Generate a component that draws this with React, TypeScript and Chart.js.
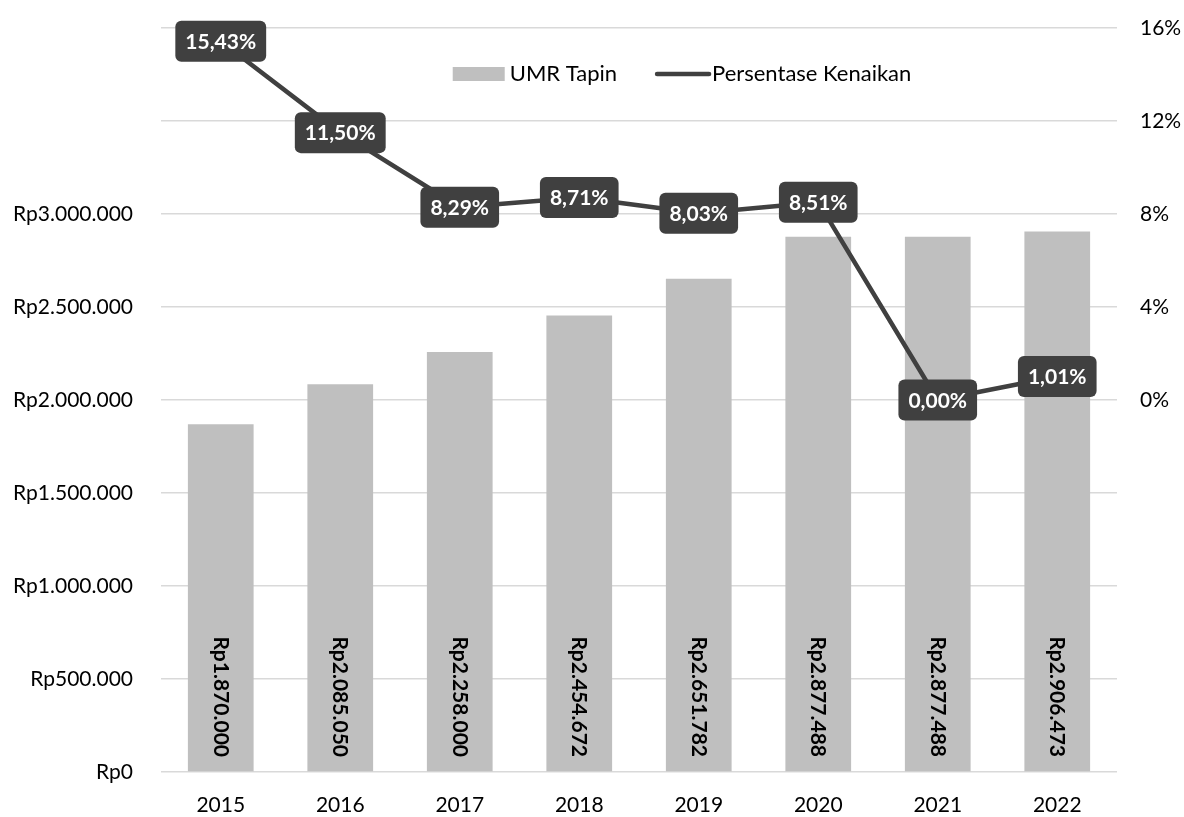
import React, { useEffect, useRef } from "react";
import { Chart, registerables } from "chart.js";

Chart.register(...registerables);

const years = ["2015", "2016", "2017", "2018", "2019", "2020", "2021", "2022"];
const umrValues = [1870000, 2085050, 2258000, 2454672, 2651782, 2877488, 2877488, 2906473];
const pctValues = [15.43, 11.5, 8.29, 8.71, 8.03, 8.51, 0.0, 1.01];
const seriesNames = ["UMR Tapin", "Persentase Kenaikan"];

const FONT = "Lato, 'Open Sans', sans-serif";
const BAR_COLOR = "#bfbfbf";
const LINE_COLOR = "#404040";
const GRID_COLOR = "#d9d9d9";

const fmtRp = (v: number) => "Rp" + Math.round(v).toString().replace(/\B(?=(\d{3})+(?!\d))/g, ".");
const fmtPct = (v: number) => v.toFixed(2).replace(".", ",") + "%";

const labelsPlugin = {
  id: "customLabels",
  afterDatasetsDraw(chart: any) {
    const ctx = chart.ctx;
    const yLeft = chart.scales.y;
    // bar labels
    const barMeta = chart.getDatasetMeta(0);
    ctx.save();
    ctx.fillStyle = "#000";
    ctx.font = `bold 21px ${FONT}`;
    barMeta.data.forEach((el: any, i: number) => {
      const base = yLeft.getPixelForValue(0);
      ctx.save();
      ctx.translate(el.x, base - 15);
      ctx.rotate(Math.PI / 2);
      ctx.textAlign = "right";
      ctx.textBaseline = "middle";
      ctx.fillText(fmtRp(umrValues[i]), 0, 0);
      ctx.restore();
    });
    ctx.restore();
    // line labels
    const lineMeta = chart.getDatasetMeta(1);
    ctx.save();
    ctx.font = `bold 21px ${FONT}`;
    lineMeta.data.forEach((el: any, i: number) => {
      const txt = fmtPct(pctValues[i]);
      const w = ctx.measureText(txt).width + 20;
      const h = 41;
      const x = el.x - w / 2;
      const y = el.y - h / 2;
      ctx.fillStyle = LINE_COLOR;
      ctx.beginPath();
      (ctx as any).roundRect(x, y, w, h, 6);
      ctx.fill();
      ctx.fillStyle = "#ffffff";
      ctx.textAlign = "center";
      ctx.textBaseline = "middle";
      ctx.fillText(txt, el.x, el.y + 1);
    });
    ctx.restore();
  },
  afterDraw(chart: any) {
    const ctx = chart.ctx;
    const area = chart.chartArea;
    ctx.save();
    ctx.font = `22px ${FONT}`;
    ctx.textBaseline = "middle";
    const boxW = 52;
    const gap = 5;
    const itemGap = 38;
    const t1 = ctx.measureText(seriesNames[0]).width;
    const t2 = ctx.measureText(seriesNames[1]).width;
    const total = boxW + gap + t1 + itemGap + boxW + gap + t2;
    const cx = area.left + area.width * 0.545;
    const cy = area.top + 46;
    let x = cx - total / 2;
    ctx.fillStyle = BAR_COLOR;
    ctx.fillRect(x, cy - 7, boxW, 14);
    x += boxW + gap;
    ctx.fillStyle = "#000";
    ctx.fillText(seriesNames[0], x, cy);
    x += t1 + itemGap;
    ctx.strokeStyle = LINE_COLOR;
    ctx.lineWidth = 4.5;
    ctx.lineCap = "round";
    ctx.beginPath();
    ctx.moveTo(x + 2, cy);
    ctx.lineTo(x + boxW + 2, cy);
    ctx.stroke();
    x += boxW + gap;
    ctx.fillStyle = "#000";
    ctx.fillText(seriesNames[1], x, cy);
    ctx.restore();
  },
};

export default function App() {
  const canvasRef = useRef<HTMLCanvasElement | null>(null);

  useEffect(() => {
    if (!canvasRef.current) return;
    const chart = new Chart(canvasRef.current, {
      type: "bar",
      data: {
        labels: years,
        datasets: [
          {
            type: "bar",
            label: seriesNames[0],
            data: umrValues,
            backgroundColor: BAR_COLOR,
            barPercentage: 0.55,
            categoryPercentage: 1,
            yAxisID: "y",
            order: 2,
          },
          {
            type: "line",
            label: seriesNames[1],
            data: pctValues,
            borderColor: LINE_COLOR,
            backgroundColor: LINE_COLOR,
            borderWidth: 4.5,
            pointRadius: 0,
            borderCapStyle: "round",
            borderJoinStyle: "round",
            tension: 0,
            yAxisID: "y1",
            order: 1,
          } as any,
        ],
      },
      options: {
        animation: false,
        responsive: true,
        maintainAspectRatio: false,
        layout: { padding: { top: 28, bottom: 0, left: 0, right: 0 } },
        plugins: {
          legend: { display: false },
          tooltip: { enabled: false },
        },
        scales: {
          x: {
            grid: { display: false, drawTicks: false },
            border: { display: false },
            ticks: { color: "#000", font: { family: FONT, size: 21 }, padding: 21 },
            afterFit(scale: any) {
              scale.height = 45;
              scale.paddingLeft = 0;
              scale.paddingRight = 0;
            },
          },
          y: {
            position: "left",
            min: 0,
            max: 4000000,
            grid: { color: GRID_COLOR, lineWidth: 1.5, drawTicks: false },
            border: { display: false },
            ticks: {
              stepSize: 500000,
              color: "#000",
              font: { family: FONT, size: 21 },
              padding: 28,
              callback: (v: any) => (Number(v) <= 3000000 ? fmtRp(Number(v)) : ""),
            },
            afterFit(scale: any) {
              scale.width = 161;
              scale.paddingTop = 0;
              scale.paddingBottom = 0;
            },
          },
          y1: {
            position: "right",
            min: -16,
            max: 16,
            grid: { display: false, drawTicks: false },
            border: { display: false },
            ticks: {
              stepSize: 4,
              color: "#000",
              font: { family: FONT, size: 21 },
              padding: 23,
              callback: (v: any) => (Number(v) >= 0 ? `${v}%` : ""),
            },
            afterFit(scale: any) {
              scale.width = 67;
              scale.paddingTop = 0;
              scale.paddingBottom = 0;
            },
          },
        },
      },
      plugins: [labelsPlugin],
    });
    return () => chart.destroy();
  }, []);

  return (
    <div style={{ position: "fixed", left: 0, top: 0, width: 1184, height: 817, background: "#fff" }}>
      <canvas ref={canvasRef} />
    </div>
  );
}
